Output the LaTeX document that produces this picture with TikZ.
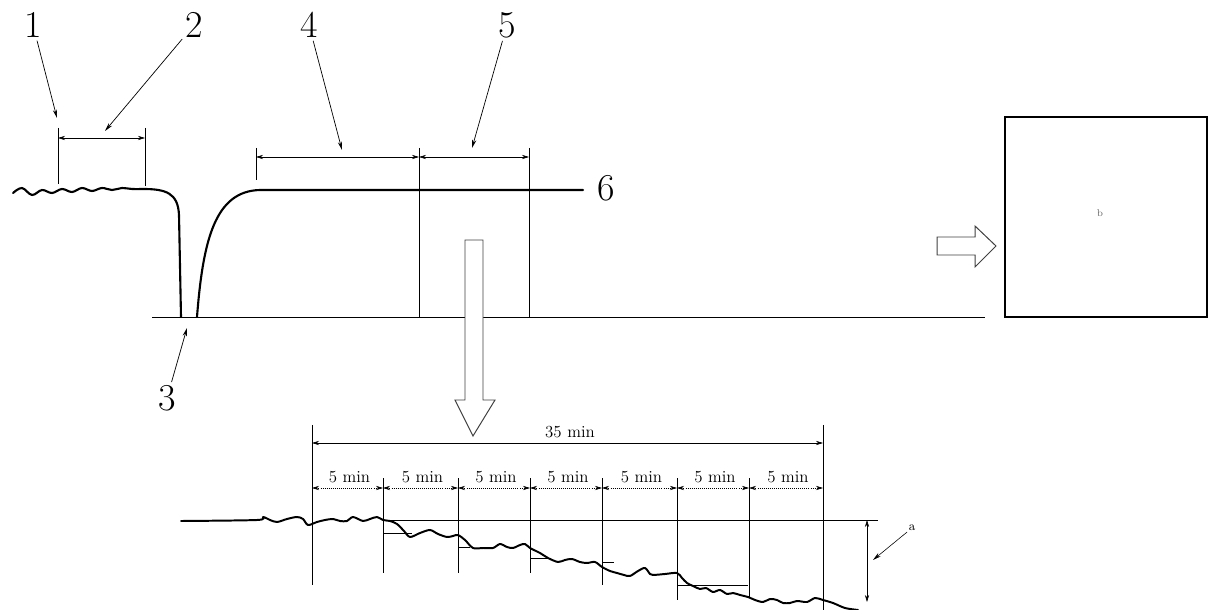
\documentclass[tikz,border=0pt]{standalone}
\usetikzlibrary{arrows.meta}
\begin{document}
\begin{tikzpicture}[
  x=0.25mm, y=-0.25mm,
  curve/.style={line width=1.5pt, line join=round, line cap=round},
  guide/.style={line width=0.45pt},
  dim/.style={line width=0.45pt,
    {Stealth[length=5pt,width=3pt]}-{Stealth[length=5pt,width=3pt]}},
  lead/.style={line width=0.5pt, -{Stealth[length=6pt,width=3pt]}},
  num/.style={font=\fontsize{27}{30}\selectfont, inner sep=2pt},
  mins/.style={font=\fontsize{12}{14}\selectfont, inner sep=0pt},
  hollow/.style={line width=0.7pt, draw=black!75, fill=white}
]
  \useasboundingbox (0,0) rectangle (1212,610);

  % Base line.
  \coordinate (b0) at (152,317);
  \coordinate (b1) at (985,317);
  \draw[guide] (b0) -- (b1);

  % Profile before and after the drop.
  \draw[curve] plot[smooth, tension=0.6] coordinates {(13,193) (22,188) (32,195)
    (42,190) (52,193) (62,189) (72,192) (82,188) (92,191) (102,188) (112,190)
    (122,188) (132,189) (143,189)}
    .. controls (166,189) and (178,193) .. (179,215) -- (181,317);
  \draw[curve] (197,317) .. controls (203,240) and (215,191) .. (260,190)
    -- (583,190);
  \node[num] (l6) at (606,188) {6};

  % Dimension 2.
  \coordinate (e2a) at (58,128);
  \coordinate (e2b) at (145,128);
  \draw[guide] (e2a) -- (58,184);
  \draw[guide] (e2b) -- (145,186);
  \draw[dim] (58,138) -- (145,138);

  % Dimensions 4 and 5.
  \draw[guide] (256,148) -- (256,180);
  \draw[guide] (419,148) -- (419,317);
  \draw[guide] (529,148) -- (529,317);
  \draw[dim] (256,157) -- (419,157);
  \draw[dim] (419,157) -- (529,157);

  % Labels 1 to 5.
  \node[num] (l1) at (33,25) {1};
  \node[num] (l2) at (194,25) {2};
  \node[num] (l3) at (167,398) {3};
  \node[num] (l4) at (309,25) {4};
  \node[num] (l5) at (507,25) {5};
  \coordinate (t1) at (57,118);
  \coordinate (t2) at (105,131);
  \coordinate (t3) at (187,328);
  \coordinate (t4) at (342,150);
  \coordinate (t5) at (472,148);
  \foreach \n in {1,...,5}{
    \draw[lead] (l\n) -- (t\n);
  }

  % Hollow arrows.
  \draw[hollow] (465,240) -- (483,240) -- (483,400) -- (495,400) -- (473,436)
    -- (455,400) -- (465,400) -- cycle;
  \draw[hollow] (937,237) -- (975,237) -- (975,226) -- (996,246) -- (975,267)
    -- (975,255) -- (937,255) -- cycle;

  % Box b.
  \node[draw, line width=1pt, minimum width=202*0.25mm, minimum height=200*0.25mm,
    inner sep=0pt] (box) at (1106,217) {};
  \node[font=\fontsize{7}{8}\selectfont, text=black!60] (b) at (1100,213) {b};

  % Enlarged detail: 35 min.
  \draw[guide] (312,425) -- (312,585);
  \draw[guide] (823,425) -- (823,610);
  \draw[dim] (312,443) -- (823,443);
  \node[mins] (t35) at (570,432) {35 min};

  % Seven 5 min steps.
  \foreach \xa/\xb [count=\i] in {312/383,383/458,458/530,530/602,602/677,
    677/749,749/823}{
    \draw[dim, densely dotted] (\xa,488) -- (\xb,488);
    \node[mins] (m\i) at ({(\xa+\xb)/2+2},477) {5 min};
  }
  \foreach \xd/\yd in {383/573,458/573,530/573,602/585,677/600,749/597}{
    \draw[guide] (\xd,478) -- (\xd,\yd);
  }

  % Reference level and drops.
  \draw[guide] (383,520) -- (878,520);
  \draw[guide] (383,533) -- (412,533);
  \draw[guide] (458,547) -- (470,547);
  \draw[guide] (530,558) -- (548,558);
  \draw[guide] (602,562) -- (614,562);
  \draw[guide] (677,585) -- (748,585);
  \draw[dim] (867,520) -- (867,602);
  \node[font=\fontsize{9}{10}\selectfont, inner sep=1pt] (la) at (912,528) {a};
  \coordinate (ta) at (873,560);
  \draw[lead, line width=0.4pt] (la) -- (ta);

  % Profile during the test.
  \draw[curve, line width=1.4pt] plot[smooth, tension=0.5] coordinates {(181,521)
    (257,520) (263,517) (270,520) (277,522) (287,519) (297,517) (303,519)
    (308,525) (317,522) (325,520) (333,519) (340,521) (347,521) (353,517)
    (363,521) (370,519) (377,517) (383,520) (390,521) (397,524) (404,531)
    (410,537) (420,533) (430,530) (438,534) (447,537) (453,536) (458,535)
    (465,540) (473,548) (483,548) (493,548) (500,544) (507,547) (513,548)
    (520,545) (525,544) (530,548) (540,553) (548,558) (558,562) (565,560)
    (572,559) (580,562) (587,563) (595,562) (602,567) (610,571) (617,573)
    (624,575) (630,576) (638,571) (645,568) (650,574) (653,575) (665,574)
    (677,573) (682,578) (687,583) (693,586) (700,589) (706,588) (713,592)
    (720,590) (727,594) (733,593) (740,595) (748,597) (755,600) (763,602)
    (770,599) (777,600) (783,603) (790,603) (797,601) (807,602) (815,598)
    (823,600) (833,603) (845,608) (858,610)};
\end{tikzpicture}
\end{document}
